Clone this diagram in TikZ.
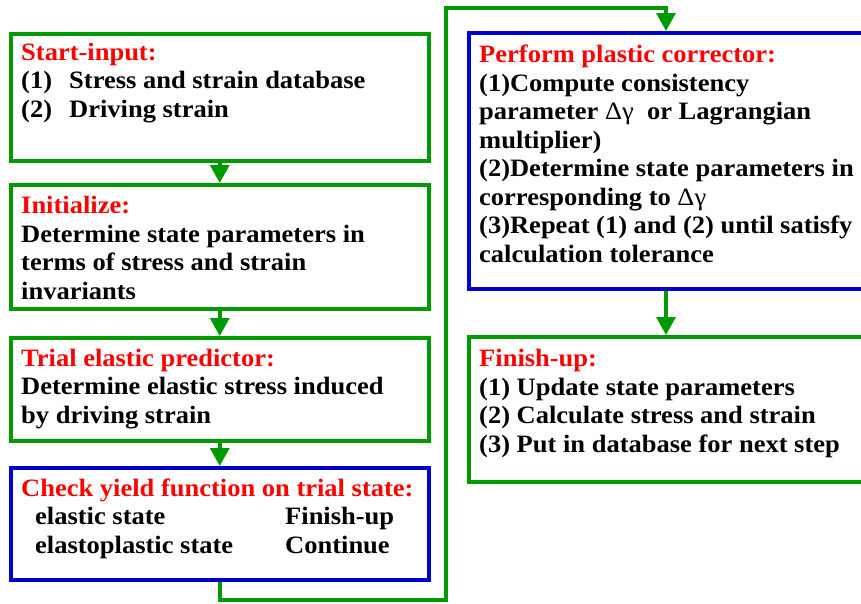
\documentclass[tikz,border=0pt]{standalone}
\usepackage{fontspec}
\setmainfont{Liberation Serif}[FakeStretch=1.06]
\usetikzlibrary{arrows.meta}
\definecolor{boxgreen}{RGB}{0,153,0}
\definecolor{boxblue}{RGB}{0,0,204}
\definecolor{headred}{RGB}{255,0,0}
\tikzset{
  gbox/.style={draw=boxgreen, line width=3.5pt, rectangle, inner sep=0pt, anchor=north west},
  bbox/.style={draw=boxblue, line width=3.5pt, rectangle, inner sep=0pt, anchor=north west},
  txt/.style={anchor=base west, inner sep=0pt, align=left, font=\fontsize{25}{28.5}\selectfont\bfseries},
  conn/.style={draw=boxgreen, line width=3.5pt},
  arr/.style={conn, -{Triangle[width=19pt,length=18pt]}},
}
\newcommand{\hd}[1]{\textcolor{headred}{#1}}
\begin{document}
\begin{tikzpicture}[x=1pt,y=-1pt]
\useasboundingbox (0,0) rectangle (861,603);
% boxes
\node[gbox, minimum width=418pt, minimum height=127pt] (b1) at (9,32) {};
\node[gbox, minimum width=418pt, minimum height=124pt] (b2) at (9,183) {};
\node[gbox, minimum width=418pt, minimum height=103pt] (b3) at (9,336) {};
\node[bbox, minimum width=418pt, minimum height=112pt] (b4) at (9,466) {};
\node[bbox, minimum width=410pt, minimum height=256pt] (b5) at (467,31) {};
\node[gbox, minimum width=410pt, minimum height=145pt] (b6) at (467,335) {};
% texts (anchored at the baseline of the last line)
\node[txt] (t1) at (21,117) {\hd{Start-input:}\\\makebox[48pt][l]{(1)}Stress and strain database\\\makebox[48pt][l]{(2)}Driving strain};
\node[txt] (t2) at (21,299) {\hd{Initialize:}\\Determine state parameters in\\terms of stress and strain\\invariants};
\node[txt] (t3) at (21,423) {\hd{Trial elastic predictor:}\\Determine elastic stress induced\\by driving strain};
\node[txt] (t4) at (21,553) {\hd{Check yield function on trial state:}\\\hspace*{14pt}\makebox[250pt][l]{elastic state}Finish-up\\\hspace*{14pt}\makebox[250pt][l]{elastoplastic state}Continue};
\node[txt] (t5) at (479,262) {\hd{Perform plastic corrector:}\\(1)Compute consistency\\parameter {\mdseries Δγ}\ \ or Lagrangian\\multiplier)\\(2)Determine state parameters in\\corresponding to {\mdseries Δγ}\\(3)Repeat (1) and (2) until satisfy\\calculation tolerance};
\node[txt] (t6) at (479,452) {\hd{Finish-up:}\\(1) Update state parameters\\(2) Calculate stress and strain\\(3) Put in database for next step};
% connectors
\coordinate (cx) at (666,0);
\coordinate (ly) at (0,600);
\coordinate (r2) at (446,600);
\coordinate (r3) at (446,8);
\coordinate (r4) at (666,8);
\draw[arr] (b1.south) -- (b2.north);
\draw[arr] (b2.south) -- (b3.north);
\draw[arr] (b3.south) -- (b4.north);
\draw[arr] (b4.south) -- (b4.south |- ly) -- (r2) -- (r3) -- (r4) -- (b5.north -| cx);
\draw[arr] (b5.south -| cx) -- (b6.north -| cx);
\end{tikzpicture}
\end{document}
